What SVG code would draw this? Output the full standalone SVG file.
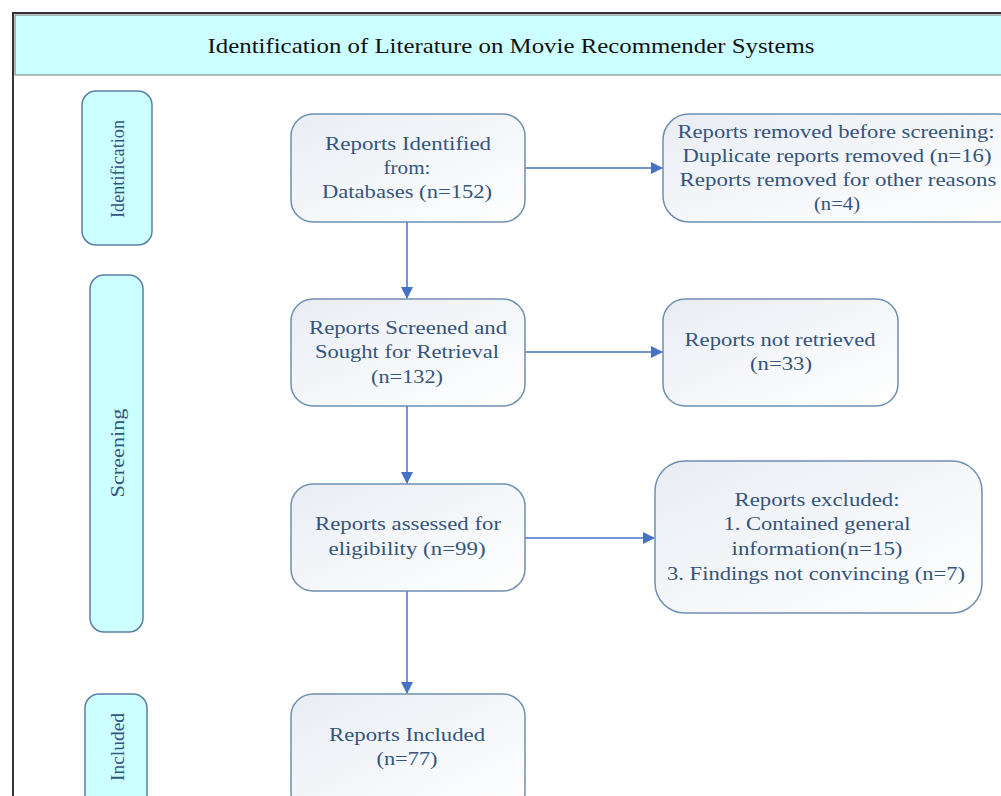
<svg xmlns="http://www.w3.org/2000/svg" width="1001" height="796" viewBox="0 0 1001 796">
<defs>
<linearGradient id="g" x1="0" y1="0" x2="1" y2="1">
<stop offset="0" stop-color="#e9edf3"/>
<stop offset="1" stop-color="#ffffff"/>
</linearGradient>
<marker id="ah" markerWidth="12" markerHeight="12" refX="11" refY="6" orient="auto" markerUnits="userSpaceOnUse">
<path d="M0,0 L12,6 L0,12 Z" fill="#4472c4"/>
</marker>
</defs>
<style>
.box{fill:url(#g);stroke:#6f8fb3;stroke-width:1.5}
.side{fill:#ccffff;stroke:#5b7fa6;stroke-width:1.5}
.t{font-family:"Liberation Serif",serif;font-size:19px;fill:#34557c;text-anchor:middle}
.s{font-family:"Liberation Serif",serif;font-size:18px;fill:#34557c;text-anchor:middle}
.c{stroke:#4472c4;stroke-width:1.5;fill:none;marker-end:url(#ah)}
</style>
<rect x="0" y="0" width="1001" height="796" fill="#ffffff"/>
<rect x="13" y="13" width="1000" height="800" fill="none" stroke="#333" stroke-width="2"/>
<g id="header">
<rect x="15" y="15" width="1000" height="60" fill="#ccffff" stroke="#777" stroke-width="1"/>
<text x="511" y="53" font-family="Liberation Serif, serif" font-size="22" fill="#111" text-anchor="middle" textLength="607" lengthAdjust="spacingAndGlyphs">Identification of Literature on Movie Recommender Systems</text>
</g>
<g id="side-identification">
<rect class="side" x="82" y="91" width="70" height="154" rx="14"/>
<text class="s" transform="translate(124,169) rotate(-90)" textLength="98" lengthAdjust="spacingAndGlyphs">Identification</text>
</g>
<g id="side-screening">
<rect class="side" x="90" y="275" width="53" height="357" rx="14"/>
<text class="s" transform="translate(124,453) rotate(-90)" textLength="89" lengthAdjust="spacingAndGlyphs">Screening</text>
</g>
<g id="side-included">
<rect class="side" x="85" y="694" width="62" height="120" rx="14"/>
<text class="s" transform="translate(124,747) rotate(-90)" textLength="68" lengthAdjust="spacingAndGlyphs">Included</text>
</g>
<g id="connectors">
<line class="c" x1="407" y1="222" x2="407" y2="298"/>
<line class="c" x1="407" y1="406" x2="407" y2="483"/>
<line class="c" x1="407" y1="591" x2="407" y2="693"/>
<line class="c" x1="525" y1="168" x2="662" y2="168"/>
<line class="c" x1="525" y1="352" x2="662" y2="352"/>
<line class="c" x1="525" y1="538" x2="654" y2="538"/>
</g>
<g id="box-identified">
<rect class="box" x="291" y="114" width="234" height="108" rx="22"/>
<text class="t" x="408" y="150" textLength="166" lengthAdjust="spacingAndGlyphs">Reports Identified</text>
<text class="t" x="407" y="174" textLength="47" lengthAdjust="spacingAndGlyphs">from:</text>
<text class="t" x="407" y="198" textLength="170" lengthAdjust="spacingAndGlyphs">Databases (n=152)</text>
</g>
<g id="box-removed">
<rect class="box" x="663" y="114" width="360" height="108" rx="26"/>
<text class="t" x="836" y="138" textLength="317" lengthAdjust="spacingAndGlyphs">Reports removed before screening:</text>
<text class="t" x="837" y="162" textLength="309" lengthAdjust="spacingAndGlyphs">Duplicate reports removed (n=16)</text>
<text class="t" x="838" y="186" textLength="317" lengthAdjust="spacingAndGlyphs">Reports removed for other reasons</text>
<text class="t" x="837" y="210" textLength="46" lengthAdjust="spacingAndGlyphs">(n=4)</text>
</g>
<g id="box-screened">
<rect class="box" x="291" y="299" width="234" height="107" rx="22"/>
<text class="t" x="408" y="334" textLength="198" lengthAdjust="spacingAndGlyphs">Reports Screened and</text>
<text class="t" x="407" y="358" textLength="184" lengthAdjust="spacingAndGlyphs">Sought for Retrieval</text>
<text class="t" x="407" y="383" textLength="72" lengthAdjust="spacingAndGlyphs">(n=132)</text>
</g>
<g id="box-not-retrieved">
<rect class="box" x="663" y="299" width="235" height="107" rx="22"/>
<text class="t" x="780" y="346" textLength="191" lengthAdjust="spacingAndGlyphs">Reports not retrieved</text>
<text class="t" x="781" y="370" textLength="62" lengthAdjust="spacingAndGlyphs">(n=33)</text>
</g>
<g id="box-assessed">
<rect class="box" x="291" y="484" width="234" height="107" rx="22"/>
<text class="t" x="408" y="530" textLength="186" lengthAdjust="spacingAndGlyphs">Reports assessed for</text>
<text class="t" x="407" y="555" textLength="157" lengthAdjust="spacingAndGlyphs">eligibility (n=99)</text>
</g>
<g id="box-excluded">
<rect class="box" x="655" y="461" width="327" height="152" rx="30"/>
<text class="t" x="817" y="506" textLength="165" lengthAdjust="spacingAndGlyphs">Reports excluded:</text>
<text class="t" x="817" y="530" textLength="187" lengthAdjust="spacingAndGlyphs">1. Contained general</text>
<text class="t" x="817" y="555" textLength="171" lengthAdjust="spacingAndGlyphs">information(n=15)</text>
<text class="t" x="816" y="580" textLength="298" lengthAdjust="spacingAndGlyphs">3. Findings not convincing (n=7)</text>
</g>
<g id="box-included">
<rect class="box" x="291" y="694" width="234" height="120" rx="22"/>
<text class="t" x="407" y="741" textLength="156" lengthAdjust="spacingAndGlyphs">Reports Included</text>
<text class="t" x="407" y="765" textLength="61" lengthAdjust="spacingAndGlyphs">(n=77)</text>
</g>
</svg>
